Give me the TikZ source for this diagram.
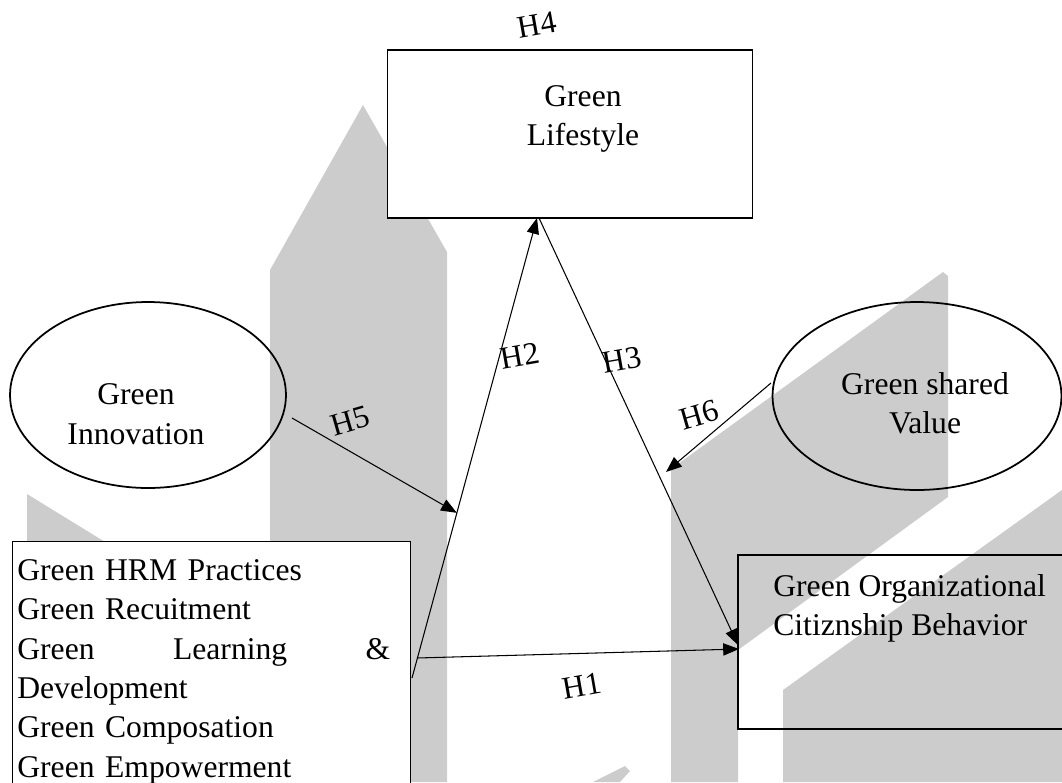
\documentclass[tikz,border=0pt]{standalone}
\usepackage{fontspec}
\setmainfont{Liberation Serif}
\usetikzlibrary{arrows.meta,shapes.geometric,calc}

\tikzset{
  box/.style={draw, line width=0.6pt, inner sep=0pt},
  oval/.style={draw, ellipse, line width=1pt, inner sep=0pt},
  txt/.style={font=\fontsize{18}{22.4}\selectfont, align=center, inner sep=0pt},
  hyp/.style={font=\fontsize{18}{22}\selectfont, rotate=10, inner sep=0pt},
  link/.style={line width=0.6pt, -{Triangle[length=9pt,width=7pt]}},
  wmark/.style={fill=black!20}
}

\begin{document}
\begin{tikzpicture}[x=0.02cm, y=-0.02cm]
    \useasboundingbox (0,0) rectangle (1062,782);
    \clip (0,0) rectangle (1062,782);

    % watermark in the background
    \fill[wmark] (270,782) -- (270,270) -- (363,105) -- (447,252) -- (447,782) -- cycle;
    \fill[wmark] (671,782) -- (671,469) -- (943,272) -- (948,276) -- (948,497)
                 -- (738,650) -- (738,782) -- cycle;
    \fill[wmark] (783,782) -- (783,690) -- (1062,490) -- (1062,782) -- cycle;
    \fill[wmark] (27,782) -- (27,494) -- (110,545) -- (110,782) -- cycle;
    \fill[wmark] (593,782) -- (625,766) -- (630,771) -- (620,782) -- cycle;

    % constructs
    \node[box, fill=white, minimum width=7.32cm, minimum height=3.36cm] (life) at (570,134) {};
    \node[txt] (lifetxt) at (583,119) {Green\\Lifestyle};

    \node[oval, minimum width=5.52cm, minimum height=3.72cm] (innov) at (148,395) {};
    \node[txt] (innovtxt) at (136,414) {Green\\Innovation};

    \node[oval, minimum width=5.78cm, minimum height=3.76cm] (shared) at (917,396) {};
    \node[txt] (sharedtxt) at (925,403) {Green shared\\Value};

    \node[box, fill=white, anchor=north west, minimum width=7.96cm, minimum height=5.4cm] (hrm) at (12,541) {};
    \node[txt, align=left, text width=7.46cm, anchor=north west] (hrmtxt) at (17,559)
      {Green HRM Practices\\Green Recuitment\\Green\hfill Learning\hfill\&\\Development\\
       Green Composation\\Green Empowerment};

    \node[box, line width=1.1pt, anchor=north west, minimum width=6.8cm, minimum height=3.48cm] (ocb) at (737,554) {};
    \node[txt, align=left, anchor=north west] (ocbtxt) at (773,574)
      {Green Organizational\\Citiznship Behavior};

    % end points of the paths
    \coordinate (h1s) at (417,658);
    \coordinate (h1e) at (739,649);
    \coordinate (h2s) at (412,678);
    \coordinate (lifein) at (537,218);
    \coordinate (lifeout) at (539,218);
    \coordinate (h3e) at (738,645);
    \coordinate (h5s) at (292,418);
    \coordinate (h5e) at ($(h2s)!0.359!(lifein)$);
    \coordinate (h6s) at (771,383);
    \coordinate (h6e) at (666,472);

    \draw[link] (h1s) -- (h1e);
    \draw[link] (h2s) -- (lifein);
    \draw[link] (lifeout) -- (h3e);
    \draw[link] (h5s) -- (h5e);
    \draw[link] (h6s) -- (h6e);

    % hypotheses
    \node[hyp] (H1) at (582,686) {H1};
    \node[hyp] (H2) at (520,356) {H2};
    \node[hyp] (H3) at (622,360) {H3};
    \node[hyp] (H4) at (537,25) {H4};
    \node[hyp, rotate=6] (H5) at (350,421) {H5};
    \node[hyp, rotate=6] (H6) at (699,415) {H6};
\end{tikzpicture}
\end{document}
